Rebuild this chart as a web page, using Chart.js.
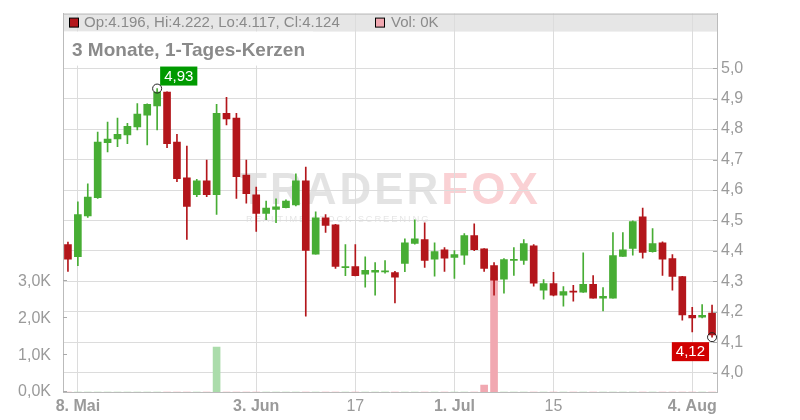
<!DOCTYPE html>
<html>
<head>
<meta charset="utf-8">
<script src="https://cdn.jsdelivr.net/npm/chart.js@4.4.1/dist/chart.umd.min.js"></script>
<style>
html,body{margin:0;padding:0;background:#fff;}
#wrap{width:800px;height:420px;}
</style>
</head>
<body>
<div id="wrap"><canvas id="chart" width="800" height="420"></canvas></div>
<script>
// trading days, 7 May - 6 Aug 2025
const dates = [
  '2025-05-07','2025-05-08','2025-05-09','2025-05-12','2025-05-13','2025-05-14','2025-05-15','2025-05-16',
  '2025-05-19','2025-05-20','2025-05-21','2025-05-22','2025-05-23','2025-05-26','2025-05-27','2025-05-28',
  '2025-05-29','2025-05-30','2025-06-02','2025-06-03','2025-06-04','2025-06-05','2025-06-06','2025-06-09',
  '2025-06-10','2025-06-11','2025-06-12','2025-06-13','2025-06-16','2025-06-17','2025-06-18','2025-06-19',
  '2025-06-20','2025-06-23','2025-06-24','2025-06-25','2025-06-26','2025-06-27','2025-06-30','2025-07-01',
  '2025-07-02','2025-07-03','2025-07-04','2025-07-07','2025-07-08','2025-07-09','2025-07-10','2025-07-11',
  '2025-07-14','2025-07-15','2025-07-16','2025-07-17','2025-07-18','2025-07-21','2025-07-22','2025-07-23',
  '2025-07-24','2025-07-25','2025-07-28','2025-07-29','2025-07-30','2025-07-31','2025-08-01','2025-08-04',
  '2025-08-05','2025-08-06'
];
const opens = [
  4.421,4.381,4.515,4.575,4.755,4.768,4.781,4.807,4.846,4.876,4.921,4.757,4.640,4.585,4.630,4.585,
  4.852,4.836,4.649,4.584,4.523,4.536,4.542,4.551,4.630,4.389,4.509,4.486,4.345,4.349,4.324,4.330,
  4.331,4.329,4.359,4.425,4.437,4.373,4.404,4.379,4.386,4.450,4.407,4.352,4.307,4.369,4.369,4.417,
  4.271,4.293,4.255,4.268,4.265,4.290,4.245,4.245,4.382,4.408,4.512,4.398,4.427,4.375,4.316,4.189,
  4.183,4.196
];
const highs = [
  4.429,4.561,4.620,4.790,4.823,4.836,4.819,4.884,4.883,4.933,4.922,4.783,4.744,4.635,4.698,4.881,
  4.904,4.852,4.698,4.610,4.564,4.571,4.568,4.653,4.675,4.528,4.519,4.487,4.421,4.421,4.381,4.362,
  4.368,4.333,4.440,4.502,4.492,4.427,4.411,4.401,4.457,4.489,4.408,4.362,4.375,4.411,4.437,4.421,
  4.306,4.330,4.283,4.287,4.394,4.319,4.280,4.460,4.460,4.499,4.541,4.473,4.430,4.388,4.317,4.215,
  4.224,4.222
];
const lows = [
  4.333,4.352,4.510,4.572,4.725,4.742,4.752,4.797,4.748,4.797,4.739,4.627,4.438,4.578,4.578,4.520,
  4.814,4.572,4.557,4.464,4.503,4.493,4.541,4.548,4.186,4.389,4.461,4.343,4.319,4.318,4.281,4.255,
  4.327,4.229,4.332,4.422,4.346,4.317,4.333,4.310,4.356,4.401,4.333,4.255,4.261,4.320,4.356,4.284,
  4.242,4.252,4.219,4.235,4.264,4.245,4.203,4.245,4.382,4.386,4.376,4.396,4.320,4.271,4.173,4.134,
  4.180,4.117
];
const closes = [
  4.373,4.519,4.577,4.757,4.767,4.783,4.809,4.849,4.881,4.921,4.752,4.637,4.546,4.630,4.585,4.852,
  4.833,4.644,4.588,4.523,4.541,4.545,4.564,4.630,4.402,4.509,4.484,4.349,4.349,4.319,4.336,4.336,
  4.335,4.314,4.427,4.440,4.369,4.398,4.376,4.388,4.450,4.404,4.343,4.304,4.372,4.372,4.424,4.294,
  4.293,4.255,4.267,4.265,4.290,4.245,4.251,4.385,4.404,4.496,4.395,4.424,4.373,4.316,4.190,4.180,
  4.189,4.124
];
const volumes = [
  0,0,0,0,0,0,0,0,0,0,0,0,0,0,0,1220,
  0,0,0,0,0,0,0,0,0,0,0,0,0,0,0,0,
  0,0,0,0,0,0,0,0,0,0,190,3100,0,0,0,0,
  0,0,0,0,0,0,0,0,0,0,0,0,0,0,0,0,
  0,0
];
const tickDates = ['2025-05-08','2025-06-03','2025-06-17','2025-07-01','2025-07-15','2025-08-04'];
const tickText = ['8. Mai','3. Jun','17','1. Jul','15','4. Aug'];
const priceTicks = [4.0,4.1,4.2,4.3,4.4,4.5,4.6,4.7,4.8,4.9,5.0];
const volTicks = [0,1000,2000,3000];

const FONT = "'Liberation Sans', Arial, sans-serif";
const GREEN = '#47ad34', RED = '#b3161b';
const VOL_GREEN = '#abdcab', VOL_RED = '#f1a8b1';
const up = opens.map((o,i)=>closes[i] >= o);

const comma = (v, d) => v.toFixed(d).replace('.', ',');

const decor = {
  id: 'decor',
  beforeDraw(chart){
    const {ctx, chartArea:a} = chart;
    ctx.save();
    ctx.fillStyle = '#e6e6e6';
    ctx.fillRect(a.left, a.top, a.right - a.left, 18);
    // watermark
    ctx.textBaseline = 'alphabetic';
    ctx.textAlign = 'left';
    ctx.font = 'bold 44px ' + FONT;
    ctx.letterSpacing = '3px';
    ctx.fillStyle = 'rgba(0,0,0,0.11)';
    ctx.fillText('TRADER', 240, 204);
    const w = ctx.measureText('TRADER').width;
    ctx.fillStyle = 'rgba(235,70,85,0.25)';
    ctx.fillText('FOX', 240 + w, 204);
    ctx.font = '9.5px ' + FONT;
    ctx.letterSpacing = '1.8px';
    ctx.fillStyle = 'rgba(0,0,0,0.11)';
    ctx.fillText('REALTIME STOCK SCREENING', 246, 222);
    ctx.restore();
  },
  afterDatasetsDraw(chart){
    const {ctx} = chart;
    const xs = chart.scales.x, ys = chart.scales.y;
    ctx.save();
    ctx.font = '15px ' + FONT;
    ctx.textAlign = 'center';
    ctx.textBaseline = 'middle';
    // highest high
    const hi = Math.max(...highs), hiIdx = highs.indexOf(hi);
    let x = xs.getPixelForValue(hiIdx), y = ys.getPixelForValue(hi);
    let txt = comma(hi, 2), tw = ctx.measureText(txt).width + 8;
    ctx.fillStyle = '#009a00';
    ctx.fillRect(x + 3, y - 22, tw, 19);
    ctx.fillStyle = '#fff';
    ctx.fillText(txt, x + 3 + tw/2, y - 12);
    ctx.beginPath(); ctx.arc(x, y, 4.5, 0, Math.PI*2);
    ctx.strokeStyle = '#222'; ctx.lineWidth = 1; ctx.stroke();
    // last low
    const li = lows.length - 1, lo = lows[li];
    x = xs.getPixelForValue(li); y = ys.getPixelForValue(lo);
    txt = comma(lo, 2); tw = ctx.measureText(txt).width + 8;
    ctx.fillStyle = '#d10000';
    ctx.fillRect(x - 3 - tw, y + 5, tw, 19);
    ctx.fillStyle = '#fff';
    ctx.fillText(txt, x - 3 - tw/2, y + 15);
    ctx.beginPath(); ctx.arc(x, y, 4.5, 0, Math.PI*2);
    ctx.strokeStyle = '#222'; ctx.stroke();
    ctx.restore();
  },
  afterDraw(chart){
    const {ctx, chartArea:a} = chart;
    const ys = chart.scales.y, vs = chart.scales.yv;
    ctx.save();
    // frame top
    ctx.strokeStyle = '#bbb'; ctx.lineWidth = 1;
    ctx.beginPath(); ctx.moveTo(a.left, a.top + 0.5); ctx.lineTo(a.right, a.top + 0.5); ctx.stroke();
    // small inner ticks
    ctx.strokeStyle = '#aaa';
    ys.ticks.forEach(t => {
      const p = Math.round(ys.getPixelForValue(t.value)) + 0.5;
      ctx.beginPath(); ctx.moveTo(a.right - 4, p); ctx.lineTo(a.right, p); ctx.stroke();
    });
    vs.ticks.forEach(t => {
      const p = Math.round(vs.getPixelForValue(t.value)) - 0.5;
      ctx.beginPath(); ctx.moveTo(a.left, p); ctx.lineTo(a.left + 4, p); ctx.stroke();
    });
    // header line
    const li = opens.length - 1;
    ctx.fillStyle = up[li] ? GREEN : RED;
    ctx.fillRect(a.left + 6.5, a.top + 4.5, 9, 9);
    ctx.strokeStyle = '#000';
    ctx.strokeRect(a.left + 6.5, a.top + 4.5, 9, 9);
    ctx.font = '15px ' + FONT;
    ctx.fillStyle = '#8a8a8a';
    ctx.textBaseline = 'middle';
    ctx.textAlign = 'left';
    ctx.fillText('Op:' + opens[li].toFixed(3) + ', Hi:' + highs[li].toFixed(3) + ', Lo:' +
                 lows[li].toFixed(3) + ', Cl:' + closes[li].toFixed(3), a.left + 21, a.top + 9.5);
    ctx.fillStyle = up[li] ? VOL_GREEN : VOL_RED;
    ctx.fillRect(375.5, a.top + 4.5, 9, 9);
    ctx.strokeRect(375.5, a.top + 4.5, 9, 9);
    ctx.fillStyle = '#8a8a8a';
    ctx.fillText('Vol: ' + (volumes[li] / 1000).toFixed(0) + 'K', 391, a.top + 9.5);
    // title
    ctx.font = 'bold 19px ' + FONT;
    const title = '3 Monate, 1-Tages-Kerzen';
    const tw = ctx.measureText(title).width;
    ctx.fillStyle = '#fff';
    ctx.fillRect(a.left + 1, a.top + 18, tw + 16, 34);
    ctx.fillStyle = '#8a8a8a';
    ctx.textBaseline = 'alphabetic';
    ctx.fillText(title, a.left + 9, a.top + 42.5);
    ctx.restore();
  }
};

new Chart(document.getElementById('chart'), {
  type: 'bar',
  data: {
    labels: dates,
    datasets: [
      {
        label: 'Vol',
        yAxisID: 'yv',
        data: volumes,
        backgroundColor: up.map(u => u ? VOL_GREEN : VOL_RED),
        barThickness: 7,
        grouped: false,
        order: 3
      },
      {
        label: 'Docht',
        yAxisID: 'y',
        data: lows.map((l,i) => [l, highs[i]]),
        backgroundColor: up.map(u => u ? GREEN : RED),
        barThickness: 1,
        grouped: false,
        order: 2
      },
      {
        label: 'Kerze',
        yAxisID: 'y',
        data: opens.map((o,i) => [o, closes[i]]),
        backgroundColor: up.map(u => u ? GREEN : RED),
        barThickness: 7,
        minBarLength: 1,
        grouped: false,
        order: 1
      }
    ]
  },
  options: {
    responsive: false,
    animation: false,
    layout: { padding: { top: 12, left: 0, right: 0, bottom: 0 } },
    plugins: { legend: { display: false }, tooltip: { enabled: false } },
    scales: {
      x: {
        offset: true,
        grid: { offset: false, color: '#dcdcdc', drawTicks: false },
        border: { color: '#bbb' },
        afterBuildTicks: s => { s.ticks = tickDates.map(d => ({ value: dates.indexOf(d) })); },
        afterFit: s => { s.height = 28; },
        ticks: {
          autoSkip: false,
          maxRotation: 0,
          padding: 5,
          color: '#9a9a9a',
          font: c => ({ family: FONT, size: 16, weight: (tickText[c.index] || '').includes('.') ? 'bold' : 'normal' }),
          callback: (v, i) => tickText[i]
        }
      },
      y: {
        position: 'right',
        min: 3.937,
        max: 5.179,
        grid: { color: '#dcdcdc', drawTicks: false },
        border: { color: '#bbb' },
        afterBuildTicks: s => { s.ticks = priceTicks.map(v => ({ value: v })); },
        afterFit: s => { s.width = 83; },
        ticks: {
          padding: 4,
          color: '#9a9a9a',
          font: { family: FONT, size: 16 },
          callback: v => comma(v, 1)
        }
      },
      yv: {
        position: 'left',
        min: 0,
        max: 10270,
        grid: { display: false },
        border: { color: '#bbb' },
        afterBuildTicks: s => { s.ticks = volTicks.map(v => ({ value: v })); },
        afterFit: s => { s.width = 63; },
        ticks: {
          padding: 4,
          color: '#9a9a9a',
          font: { family: FONT, size: 16 },
          callback: v => comma(v / 1000, 1) + 'K'
        }
      }
    }
  },
  plugins: [decor]
});
</script>
</body>
</html>
